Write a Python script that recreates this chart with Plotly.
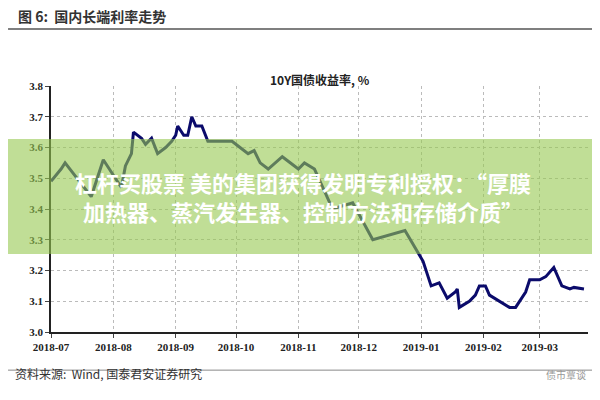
import plotly.graph_objects as go

dates = ["2018-07-01","2018-07-06","2018-07-08","2018-07-21","2018-07-27","2018-08-05","2018-08-07",
         "2018-08-10","2018-08-11","2018-08-15","2018-08-17","2018-08-20","2018-08-23","2018-08-27",
         "2018-08-30","2018-09-01","2018-09-02","2018-09-05","2018-09-07","2018-09-09","2018-09-11",
         "2018-09-14","2018-09-17","2018-09-26","2018-09-29","2018-10-03","2018-10-07","2018-10-10",
         "2018-10-13","2018-10-17","2018-10-24","2018-11-01","2018-11-04","2018-11-09","2018-11-14",
         "2018-11-18","2018-11-28","2018-12-08","2018-12-24","2019-01-02","2019-01-06","2019-01-10",
         "2019-01-14","2019-01-18","2019-01-19","2019-01-20","2019-01-25","2019-01-28","2019-01-30",
         "2019-02-02","2019-02-04","2019-02-12","2019-02-14","2019-02-17","2019-02-22","2019-02-24",
         "2019-03-01","2019-03-04","2019-03-08","2019-03-12","2019-03-16","2019-03-18","2019-03-23"]
yields = [3.49,3.53,3.55,3.44,3.56,3.47,3.54,3.58,3.65,3.63,3.61,3.63,3.58,3.60,
          3.62,3.64,3.67,3.64,3.64,3.70,3.67,3.67,3.62,3.62,3.62,3.60,3.58,3.59,
          3.55,3.53,3.57,3.53,3.55,3.53,3.46,3.40,3.42,3.30,3.33,3.23,3.15,3.16,
          3.11,3.13,3.14,3.08,3.10,3.12,3.15,3.15,3.12,3.09,3.08,3.08,3.13,3.17,
          3.17,3.18,3.21,3.15,3.14,3.145,3.14]
tickvals = ["2018-07-01","2018-08-01","2018-09-01","2018-10-01","2018-11-01","2018-12-01",
            "2019-01-01","2019-02-01","2019-03-01"]
ticktext = ["2018-07","2018-08","2018-09","2018-10","2018-11","2018-12","2019-01","2019-02","2019-03"]

serif = "Liberation Serif, DejaVu Serif"
cjk = "Noto Sans CJK SC"

fig = go.Figure(go.Scatter(x=dates, y=yields, mode="lines",
                           line=dict(color="#0b0b6b", width=3)))
fig.update_layout(
    width=600, height=400, paper_bgcolor="white", plot_bgcolor="white",
    margin=dict(l=43, r=20, t=78, b=76), showlegend=False,
    font=dict(family=serif, color="#222"),
    xaxis=dict(tickvals=tickvals, ticktext=["<b>%s</b>" % t for t in ticktext],
               range=["2018-07-01","2019-03-25"],
               showgrid=True, gridcolor="#bbb", griddash="dot", showline=True,
               linecolor="#222", linewidth=1.5, ticks="outside", ticklen=4,
               tickfont=dict(size=11, family=serif)),
    yaxis=dict(range=[3.0, 3.8], dtick=0.1, tickformat=".1f", showgrid=True,
               gridcolor="#bbb", griddash="dot", showline=True, linecolor="#222",
               linewidth=1.5, ticks="outside", ticklen=4, zeroline=False,
               tickprefix="<b>", ticksuffix="</b>",
               tickfont=dict(size=11, family=serif)),
    shapes=[
        dict(type="line", xref="paper", yref="paper", x0=-0.08, x1=1.04, y0=1.232, y1=1.232,
             line=dict(color="#555", width=1.5)),
        dict(type="line", xref="paper", yref="paper", x0=-0.08, x1=1.04, y0=-0.155, y1=-0.155,
             line=dict(color="#888", width=1)),
        dict(type="rect", xref="paper", yref="paper", x0=-0.09, x1=1.05, y0=0.317, y1=0.785,
             fillcolor="rgba(150,200,80,0.6)", line=dict(width=0), layer="above"),
    ],
    annotations=[
        dict(text="<b>图 6:  国内长端利率走势</b>", xref="paper", yref="paper", x=-0.065, y=1.285,
             xanchor="left", yanchor="middle", showarrow=False, font=dict(size=14, family=cjk, color="#333")),
        dict(text="<b>10Y国债收益率, %</b>", xref="paper", yref="paper", x=0.5, y=1.069,
             showarrow=False, font=dict(size=12, family=cjk, color="#222")),
        dict(text="资料来源:  Wind, 国泰君安证券研究", xref="paper", yref="paper", x=-0.07, y=-0.21,
             xanchor="left", showarrow=False, font=dict(size=12, family=cjk, color="#333")),
        dict(text="债市覃谈", xref="paper", yref="paper", x=1.0, y=-0.21, xanchor="right",
             showarrow=False, font=dict(size=10, family=cjk, color="#999")),
        dict(text="<b>杠杆买股票 美的集团获得发明专利授权：“厚膜<br>加热器、蒸汽发生器、控制方法和存储介质”</b>",
             xref="paper", yref="paper", x=0.47, y=0.55, showarrow=False, align="center",
             font=dict(size=22, family=cjk, color="white")),
    ],
)
fig.write_html("out.html")
